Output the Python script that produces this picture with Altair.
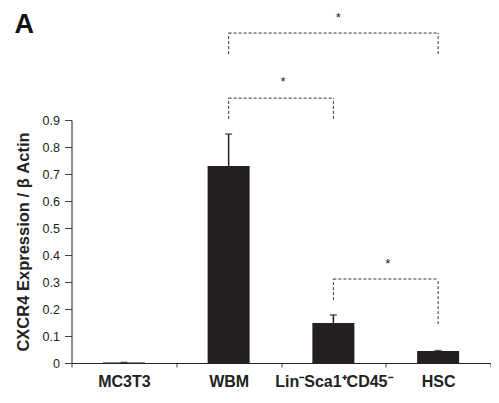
import altair as alt
import pandas as pd

LIN = "Lin⁻Sca1⁺CD45⁻"
categories = ["MC3T3", "WBM", LIN, "HSC"]
means = [0.002, 0.73, 0.148, 0.044]
uppers = [0.002, 0.848, 0.178, 0.046]

# significance brackets (left group, right group, bar height, left/right leg ends)
br_left = ["WBM", "WBM", LIN]
br_right = ["HSC", LIN, "HSC"]
br_top = [1.222, 0.981, 0.311]
br_left_end = [1.144, 0.904, 0.233]
br_right_end = [1.144, 0.904, 0.144]
# stars: group, position inside that group's band, height
star_cat = [LIN, "WBM", LIN]
star_band = ["mid", "end", "end"]
star_y = [1.293, 1.056, 0.381]
y_ticks = [0, 0.1, 0.2, 0.3, 0.4, 0.5, 0.6, 0.7, 0.8, 0.9]
panel_label = ["A"]

bars = pd.DataFrame({"group": categories, "mean": means, "upper": uppers})

seg_rows = []
for l, r, t, le, re in zip(br_left, br_right, br_top, br_left_end, br_right_end):
    seg_rows.append({"x": l, "x2": r, "y": t, "y2": t})
    seg_rows.append({"x": l, "x2": l, "y": le, "y2": t})
    seg_rows.append({"x": r, "x2": r, "y": re, "y2": t})
segs = pd.DataFrame(seg_rows)
stars = pd.DataFrame({"group": star_cat, "band": star_band, "y": star_y, "t": ["*"] * 3})

FONT = "Liberation Sans"
xscale = alt.Scale(domain=categories, paddingInner=0, paddingOuter=0)
yscale = alt.Scale(domain=[0, 0.9], nice=False)

XAX = alt.Axis(labelAngle=0, labelFontWeight="bold", labelFontSize=16, labelColor="#222",
               tickBand="extent", tickSize=4, tickColor="#444", domainColor="#222",
               labelPadding=6, labelFont=FONT)
YAX = alt.Axis(values=y_ticks, format=".1~f", grid=False, tickSize=7, tickColor="#444",
               domainColor="#222", labelFontSize=12.5, labelColor="#222", labelPadding=5,
               labelOverlap=False, titleFontSize=16.5, titleFontWeight="bold",
               titleColor="#222", titlePadding=11, labelFont=FONT, titleFont=FONT)
YT = "CXCR4 Expression / β Actin"


def X(field, **kw):
    return alt.X(field, scale=xscale, sort=categories, title=None, axis=XAX, **kw)


def Y(field):
    return alt.Y(field, scale=yscale, title=YT, axis=YAX)


bar = alt.Chart(bars).mark_bar(size=42, color="#231f20").encode(x=X("group:N"), y=Y("mean:Q"))
stem = alt.Chart(bars).mark_rule(color="#231f20", strokeWidth=1.5).encode(
    x=X("group:N"), y=Y("mean:Q"), y2="upper:Q")
cap = alt.Chart(bars).mark_tick(color="#231f20", size=7, thickness=1.5).encode(
    x=X("group:N"), y=Y("upper:Q"))

brk = alt.Chart(segs).mark_rule(color="#333", strokeWidth=1, strokeDash=[3, 2]).encode(
    x=X("x:N"), x2="x2:N", y=Y("y:Q"), y2="y2:Q")

star_mid = alt.Chart(stars).transform_filter("datum.band == 'mid'").mark_text(
    fontSize=13, font=FONT, color="#222", baseline="middle", dx=5, dy=4).encode(
    x=X("group:N", bandPosition=0.5), y=Y("y:Q"), text="t:N")
star_end = alt.Chart(stars).transform_filter("datum.band == 'end'").mark_text(
    fontSize=13, font=FONT, color="#222", baseline="middle", dx=2, dy=4).encode(
    x=X("group:N", bandPosition=1), y=Y("y:Q"), text="t:N")

label = alt.Chart(pd.DataFrame({"t": panel_label})).mark_text(
    fontSize=27, fontWeight="bold", font=FONT, color="#111", align="left", baseline="alphabetic"
).encode(x=alt.value(-57), y=alt.value(-87), text="t:N")

chart = alt.layer(bar, stem, cap, brk, star_mid, star_end, label).properties(
    width=419, height=243,
    autosize=alt.AutoSizeParams(type="none"),
    padding={"left": 63.5, "top": 112, "right": 0, "bottom": 26},
).configure_view(stroke=None).configure_axis(domainWidth=1, tickWidth=1)

chart.save("out.html", embed_options={"renderer": "svg", "actions": False})
